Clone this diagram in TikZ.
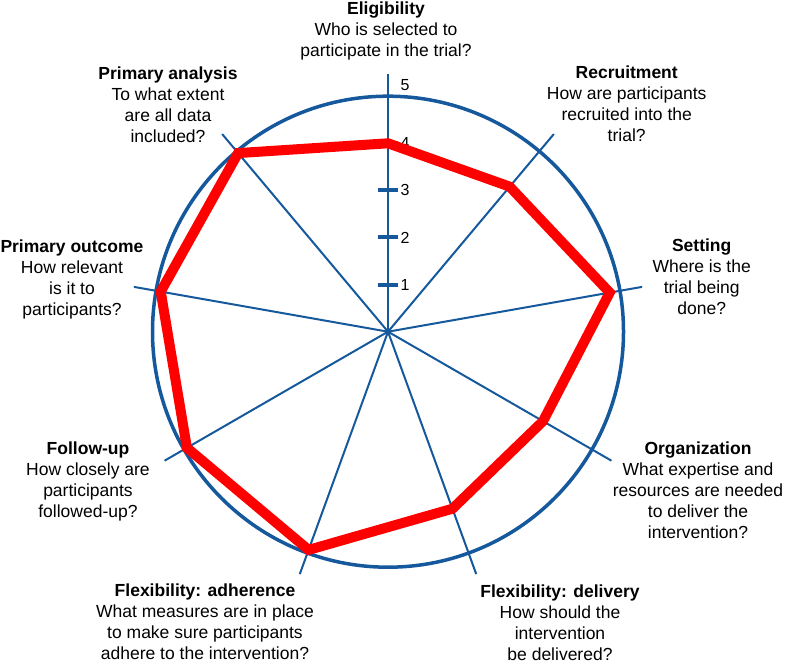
\documentclass[tikz,border=0pt]{standalone}
\usepackage{fontspec}
\setmainfont{Liberation Sans}
\definecolor{axisblue}{RGB}{21,88,156}
\begin{document}
\begin{tikzpicture}[x=1pt,y=1pt,
  axisline/.style={axisblue, line width=2pt},
  ring/.style={axisblue, line width=3.5pt},
  profile/.style={red, line width=10pt, line join=miter},
  tickmark/.style={axisblue, line width=4pt},
  ticklabel/.style={font=\fontsize{16}{19}\selectfont, anchor=west, inner sep=0pt},
  lab/.style={align=center, inner sep=0pt, font=\fontsize{17.5}{21}\selectfont}]
\useasboundingbox (0,0) rectangle (786,663);
\def\unit{47.1}
\coordinate (O) at (388,331.3);
% axes
\foreach \a/\n in {90/1,50/2,10/3,-30/4,-70/5,-110/6,-150/7,170/8,130/9}
  \draw[axisline] (O) -- ([shift={(\a:258)}]O) coordinate (end\n);
% outer ring
\draw[ring] (O) circle[radius=235.5];
% ticks and labels
\foreach \i in {1,2,3,4}{
  \draw[tickmark] ([shift={(-10,\i*\unit)}]O) coordinate (tl\i) -- ([shift={(10,\i*\unit)}]O) coordinate (tr\i);
  \node[ticklabel] (num\i) at ([shift={(12.5,\i*\unit)}]O) {\i};
}
\node[ticklabel] (num5) at ([shift={(12.5,5.23*\unit)}]O) {5};
% profile
\foreach \a/\v/\n in {90/4/1,50/4.02/2,10/4.78/3,-30/3.8/4,-70/4.0/5,-110/4.93/6,-150/4.93/7,170/4.9/8,130/4.95/9}
  \coordinate (v\n) at ([shift={(\a:\v*\unit)}]O);
\draw[profile] (v1) -- (v2) -- (v3) -- (v4) -- (v5) -- (v6) -- (v7) -- (v8) -- (v9) -- cycle;
% labels
\node[lab] (elig) at (386,632.5) {\textbf{Eligibility}\\Who is selected to\\participate in the trial?};
\node[lab] (recr) at (626.7,559.7) {\textbf{Recruitment}\\How are participants\\recruited into the\\trial?};
\node[lab] (sett) at (701.7,386.5) {\textbf{Setting}\\Where is the\\trial being\\done?};
\node[lab] (orga) at (698,173) {\textbf{Organization}\\What expertise and\\resources are needed\\to deliver the\\intervention?};
\node[lab] (flexd) at (560,40.5) {\textbf{Flexibility: delivery}\\How should the\\intervention\\be delivered?};
\node[lab] (flexa) at (205,41.5) {\textbf{Flexibility: adherence}\\What measures are in place\\to make sure participants\\adhere to the intervention?};
\node[lab] (follow) at (88,181.5) {\textbf{Follow-up}\\How closely are\\participants\\followed-up?};
\node[lab] (pout) at (72,383.8) {\textbf{Primary outcome}\\How relevant\\is it to\\participants?};
\node[lab] (pana) at (168,558) {\textbf{Primary analysis}\\To what extent\\are all data\\included?};
\end{tikzpicture}
\end{document}
